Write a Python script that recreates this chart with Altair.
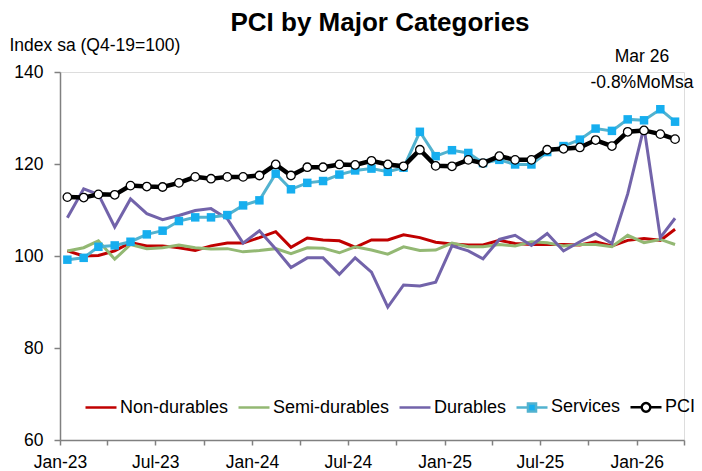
import altair as alt
import pandas as pd

# ---------------- data ----------------
months = [
    "2023-01-15", "2023-02-15", "2023-03-15", "2023-04-15", "2023-05-15", "2023-06-15",
    "2023-07-15", "2023-08-15", "2023-09-15", "2023-10-15", "2023-11-15", "2023-12-15",
    "2024-01-15", "2024-02-15", "2024-03-15", "2024-04-15", "2024-05-15", "2024-06-15",
    "2024-07-15", "2024-08-15", "2024-09-15", "2024-10-15", "2024-11-15", "2024-12-15",
    "2025-01-15", "2025-02-15", "2025-03-15", "2025-04-15", "2025-05-15", "2025-06-15",
    "2025-07-15", "2025-08-15", "2025-09-15", "2025-10-15", "2025-11-15", "2025-12-15",
    "2026-01-15", "2026-02-15", "2026-03-15",
]

non_durables = [
    101.1, 100.0, 100.1, 101.1, 102.9, 102.2, 102.2, 101.8, 101.2, 102.2, 102.8, 102.8,
    104.0, 105.3, 101.9, 103.9, 103.5, 103.3, 101.9, 103.5, 103.5, 104.6, 104.0, 103.0,
    102.6, 102.4, 102.4, 103.4, 102.7, 102.5, 102.5, 102.5, 102.4, 103.1, 102.2, 103.4,
    103.8, 103.4, 105.8,
]
semi_durables = [
    101.1, 101.8, 103.3, 99.3, 102.5, 101.6, 101.8, 102.4, 101.8, 101.5, 101.6, 100.9,
    101.2, 101.6, 100.5, 101.8, 101.7, 100.7, 102.0, 101.3, 100.4, 102.0, 101.2, 101.3,
    102.8, 102.0, 102.0, 102.5, 102.2, 103.1, 102.9, 102.2, 102.5, 102.5, 102.0, 104.5,
    102.9, 103.6, 102.5,
]
durables = [
    108.3, 114.6, 113.4, 106.3, 112.4, 109.2, 107.9, 108.8, 109.9, 110.3, 108.1, 102.8,
    105.5, 101.5, 97.5, 99.6, 99.6, 96.0, 99.6, 96.5, 88.9, 93.7, 93.5, 94.3,
    102.2, 101.1, 99.4, 103.6, 104.5, 102.3, 104.9, 101.1, 103.1, 104.9, 102.7, 113.5,
    128.0, 104.0, 108.2,
]
services = [
    99.2, 99.6, 102.0, 102.3, 103.1, 104.7, 105.5, 107.6, 108.4, 108.4, 108.9, 111.0,
    112.1, 117.9, 114.5, 115.9, 116.3, 117.7, 118.6, 119.0, 118.3, 119.2, 127.0, 121.7,
    123.0, 122.4, 120.2, 120.9, 119.9, 119.9, 122.6, 123.9, 125.3, 127.7, 127.2, 129.7,
    129.5, 131.9, 129.2,
]
pci = [
    112.8, 112.7, 113.4, 113.3, 115.3, 115.1, 115.0, 115.9, 117.2, 116.8, 117.2, 117.2,
    117.5, 119.9, 117.5, 119.3, 119.3, 119.9, 119.8, 120.7, 119.9, 119.5, 123.1, 119.6,
    119.5, 120.9, 120.2, 121.7, 120.9, 120.9, 123.1, 123.3, 123.6, 125.2, 123.9, 127.0,
    127.3, 126.5, 125.4,
]

series_names = ["Non-durables", "Semi-durables", "Durables", "Services", "PCI"]
series_values = [non_durables, semi_durables, durables, services, pci]
y_ticks = [60, 80, 100, 120, 140]
title_text = "PCI by Major Categories"
y_title = "Index sa (Q4-19=100)"
note_lines = ["Mar 26", "-0.8%MoMsa"]

# ---------------- styles ----------------
FONT = "Liberation Sans"
line_colors = ["#C00000", "#93B873", "#7263AA", "#52B2CF", "#000000"]
legend_fill = ["transparent", "transparent", "transparent", "#16AEEF", "#FFFFFF"]
legend_paths = [
    "M-1,0L1,0",
    "M-1,0L1,0",
    "M-1,0L1,0",
    "M-1,0L-0.26,0M0.26,0L1,0M-0.26,-0.26L0.26,-0.26L0.26,0.26L-0.26,0.26Z",
    "M-1,0L-0.28,0M0.28,0L1,0M-0.28,0A0.28,0.28 0 1,0 0.28,0A0.28,0.28 0 1,0 -0.28,0Z",
]

rows = []
for name, vals in zip(series_names, series_values):
    for m, v in zip(months, vals):
        rows.append({"month": m, "series": name, "value": v})
df = pd.DataFrame(rows)

tick_dates = []
for y in (2023, 2024, 2025, 2026):
    for mo in (1, 4, 7, 10):
        if y == 2026 and mo > 4:
            continue
        tick_dates.append(alt.DateTime(year=y, month=mo, date=1, utc=True))

x_enc = alt.X(
    "month:T",
    scale=alt.Scale(
        type="utc",
        domain=[alt.DateTime(year=2023, month=1, date=1, utc=True),
                alt.DateTime(year=2026, month=4, date=1, utc=True)],
        nice=False,
    ),
    axis=alt.Axis(
        values=tick_dates,
        labelExpr="(utcFormat(datum.value, '%m') == '01' || utcFormat(datum.value, '%m') == '07') ? utcFormat(datum.value, '%b-%y') : ''",
        title=None,
        grid=False,
        tickSize=5,
        labelPadding=8,
        labelFont=FONT,
        labelFontSize=17.5,
        labelColor="black",
        domainColor="#808080",
        tickColor="#808080",
        domainWidth=1.5,
        tickWidth=1.5,
        labelOverlap=False,
        labelFlush=False,
    ),
)
y_enc = alt.Y(
    "value:Q",
    scale=alt.Scale(domain=[60, 140], nice=False, zero=False),
    axis=alt.Axis(
        values=y_ticks,
        grid=False,
        tickSize=6,
        labelPadding=11,
        labelFont=FONT,
        labelFontSize=17.5,
        labelColor="black",
        domainColor="#808080",
        tickColor="#808080",
        domainWidth=1.5,
        tickWidth=1.5,
        title=y_title,
        titleAngle=0,
        titleAlign="left",
        titleBaseline="alphabetic",
        titleX=-51,
        titleY=-22,
        titleFont=FONT,
        titleFontSize=17.5,
        titleFontWeight="normal",
        titleColor="black",
    ),
)

base = alt.Chart(df)
layers = []
widths = [3, 3, 3, 3, 4.5]
for name, col, w in zip(series_names, line_colors, widths):
    layers.append(
        base.transform_filter(alt.datum.series == name)
        .mark_line(strokeWidth=w, color=col)
        .encode(x=x_enc, y=y_enc)
    )
    if name == "Services":
        layers.append(
            base.transform_filter(alt.datum.series == name)
            .mark_point(shape="square", filled=True, size=72, color="#16AEEF", opacity=1)
            .encode(x=x_enc, y=y_enc)
        )
    if name == "PCI":
        layers.append(
            base.transform_filter(alt.datum.series == name)
            .mark_point(shape="circle", filled=True, size=72, fill="white",
                        stroke="black", strokeWidth=1.3, opacity=1)
            .encode(x=x_enc, y=y_enc)
        )

leg = alt.Legend(
    orient="none", legendX=24, legendY=318, direction="horizontal", title=None,
    labelFont=FONT, labelFontSize=18, labelColor="black", symbolSize=961,
    symbolStrokeWidth=2.5, symbolOpacity=1, labelOffset=2, columnPadding=4,
    padding=0, labelLimit=0,
)
legend_df = pd.DataFrame({"series": series_names})
legend_layer = alt.Chart(legend_df).mark_point(opacity=0, filled=False).encode(
    color=alt.Color("series:N", scale=alt.Scale(domain=series_names, range=line_colors), legend=leg),
    fill=alt.Fill("series:N", scale=alt.Scale(domain=series_names, range=legend_fill), legend=leg),
    shape=alt.Shape("series:N", scale=alt.Scale(domain=series_names, range=legend_paths), legend=leg),
)
layers.append(legend_layer)

note_layer = alt.Chart(pd.DataFrame({"note": ["\n".join(note_lines)]})).mark_text(
    font=FONT, fontSize=17.5, color="black", align="center", baseline="alphabetic",
    lineBreak="\n", lineHeight=26,
).encode(x=alt.value(582), y=alt.value(-10), text="note:N")
layers.append(note_layer)

chart = alt.layer(*layers).properties(
    width=624,
    height=368,
    padding={"left": 52, "top": 64, "right": 10, "bottom": 31},
    autosize=alt.AutoSizeParams(type="none"),
    title=alt.TitleParams(title_text, font=FONT, fontSize=26, fontWeight="bold",
                          color="black", anchor="middle", frame="group", dx=8, dy=4),
).configure_view(stroke=None).configure(background="white")

chart.save("out.html", embed_options={"renderer": "svg", "actions": False})
